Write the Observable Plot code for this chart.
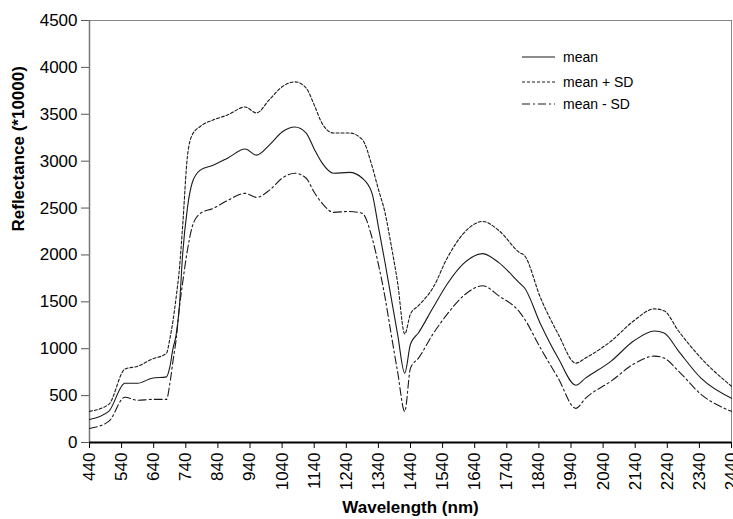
<!DOCTYPE html>
<html><head><meta charset="utf-8">
<script src="https://cdn.jsdelivr.net/npm/d3@7"></script>
<script src="https://cdn.jsdelivr.net/npm/@observablehq/plot@0.6"></script>
<style>
body{margin:0;background:#fff;font-family:"Liberation Sans",Arial,sans-serif}
#wrap{position:relative;width:733px;height:519px;overflow:hidden}
#legend{position:absolute;left:0;top:0}
</style></head>
<body><div id="wrap"><div id="chart"></div><svg id="legend" width="733" height="130"></svg></div>
<script>
const wavelengths = [440, 500, 550, 590, 635, 680, 690, 700, 710, 720, 730, 745, 760, 785, 825, 870, 925, 960, 1000, 1040, 1080, 1115, 1140, 1165, 1200, 1250, 1290, 1320, 1340, 1360, 1380, 1400, 1422, 1440, 1465, 1510, 1555, 1605, 1665, 1715, 1780, 1795, 1845, 1900, 1955, 1985, 2065, 2135, 2200, 2230, 2275, 2345, 2440];
const meanValues = [246, 332, 632, 632, 686, 700, 800, 1000, 1150, 1450, 2000, 2500, 2770, 2904, 2957, 3032, 3129, 3064, 3171, 3311, 3364, 3300, 3130, 2979, 2871, 2880, 2818, 2660, 2300, 1930, 1540, 1150, 739, 1050, 1170, 1436, 1693, 1907, 2014, 1918, 1700, 1650, 1264, 900, 611, 686, 868, 1082, 1189, 1168, 975, 686, 471];
const meanPlusSD = [332, 407, 782, 814, 889, 953, 1100, 1296, 1550, 1850, 2300, 3050, 3280, 3370, 3439, 3493, 3578, 3514, 3654, 3793, 3846, 3780, 3600, 3400, 3300, 3300, 3230, 2950, 2700, 2460, 2100, 1700, 1157, 1371, 1460, 1650, 1971, 2229, 2357, 2261, 2025, 1993, 1543, 1157, 846, 900, 1082, 1296, 1425, 1404, 1189, 900, 600];
const meanMinusSD = [150, 225, 482, 450, 460, 460, 620, 868, 1100, 1436, 1700, 2050, 2300, 2443, 2496, 2580, 2657, 2614, 2689, 2818, 2871, 2818, 2668, 2550, 2454, 2464, 2443, 2186, 1900, 1560, 1150, 750, 332, 793, 900, 1157, 1371, 1564, 1671, 1564, 1390, 1318, 1007, 686, 364, 471, 654, 836, 921, 900, 761, 514, 332];
const seriesNames = ["mean", "mean + SD", "mean - SD"];
const xTicks = d3.range(440, 2441, 100);
const yTicks = d3.range(0, 4501, 500);
const xTitle = "Wavelength (nm)";
const yTitle = "Reflectance (*10000)";

const dashOf = {"mean": null, "mean + SD": "3,2", "mean - SD": "8,3,2,3"};
const seriesValues = [meanValues, meanPlusSD, meanMinusSD];
const rows = seriesNames.flatMap((s, i) => wavelengths.map((w, j) => ({series: s, wl: w, v: seriesValues[i][j]})));

const lineMarks = seriesNames.map(s => Plot.line(rows.filter(r => r.series === s), {
  x: "wl", y: "v", stroke: "#1a1a1a", strokeWidth: 1.1, curve: "monotone-x",
  strokeDasharray: dashOf[s] || undefined
}));

const chart = Plot.plot({
  width: 733, height: 519,
  marginLeft: 89, marginRight: 2, marginTop: 20, marginBottom: 77,
  style: {fontFamily: "'Liberation Sans', Arial, sans-serif", fontSize: "17px", background: "#fff", color: "#000"},
  x: {domain: [440, 2440]},
  y: {domain: [0, 4500]},
  marks: [
    Plot.frame({stroke: "#888", strokeWidth: 1}),
    Plot.axisY({ticks: yTicks, tickSize: 8, tickPadding: 4, label: null, fontSize: 17, stroke: "#555", tickFormat: d => String(d)}),
    Plot.axisX({ticks: xTicks, tickSize: 6, tickPadding: 4, tickRotate: -90, label: null, fontSize: 17, tickFormat: d => String(d)}),
    Plot.ruleX([440], {stroke: "#777", strokeWidth: 1.5}),
    Plot.ruleY([0], {stroke: "#000", strokeWidth: 2}),
    ...lineMarks,
    Plot.text([xTitle], {frameAnchor: "bottom", dy: 70, fontWeight: "bold", fontSize: 17, text: d => d}),
    Plot.text([yTitle], {frameAnchor: "left", dx: -71, rotate: -90, fontWeight: "bold", fontSize: 17, text: d => d})
  ]
});
document.getElementById("chart").append(chart);

// legend
const leg = d3.select("#legend");
const legY = [57, 82, 104];
seriesNames.forEach((s, i) => {
  leg.append("line").attr("x1", 522).attr("x2", 555).attr("y1", legY[i]).attr("y2", legY[i])
    .attr("stroke", "#1a1a1a").attr("stroke-width", 1.1)
    .attr("stroke-dasharray", dashOf[s] || null);
  leg.append("text").attr("x", 563).attr("y", legY[i]).attr("dy", "0.35em")
    .attr("font-family", "'Liberation Sans', Arial, sans-serif").attr("font-size", 14)
    .text(s);
});
</script></body></html>
